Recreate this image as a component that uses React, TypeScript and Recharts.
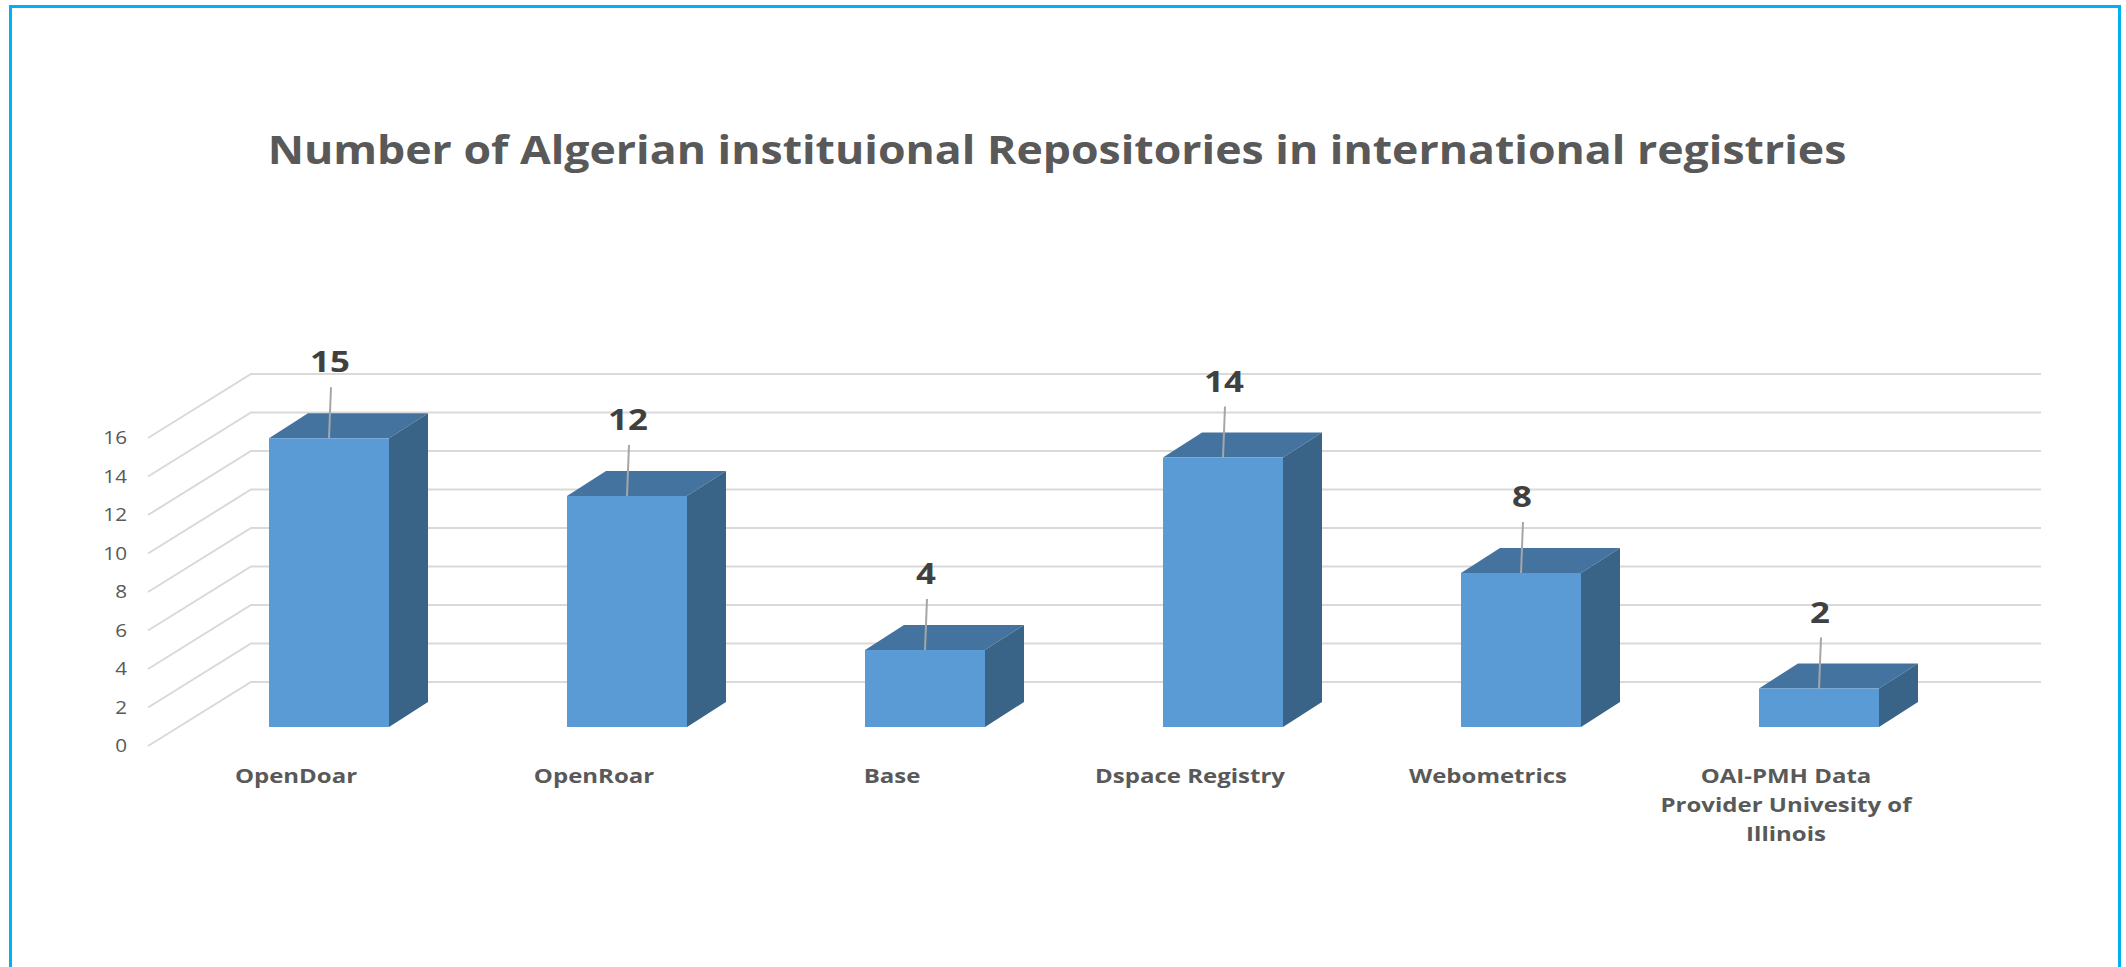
import React from 'react';
import { BarChart, Bar, XAxis, YAxis, CartesianGrid, LabelList } from 'recharts';

const categories = [
  'OpenDoar',
  'OpenRoar',
  'Base',
  'Dspace Registry',
  'Webometrics',
  'OAI-PMH Data\nProvider Univesity of\nIllinois',
];
const repositoryCounts = [15, 12, 4, 14, 8, 2];
const yTicks = [0, 2, 4, 6, 8, 10, 12, 14, 16];

const chartData = categories.map((name, i) => ({ name, count: repositoryCounts[i] }));

const FONT = '"Open Sans", "Noto Sans", sans-serif';
const TEXT_GREY = '#595959';
const GRID = '#d9d9d9';
// the source image is stretched sideways, so text gets widened a bit
const STRETCH = 1.2;

// depth of the fake 3D box and of the floor
const DEPTH_X = 39;
const DEPTH_Y = 25;

// floor diagonal + back wall line, like Excel's 3D column chart
function WallLine(props: any) {
  const { x1, x2, y1, index } = props;
  const d = `M${x1 - 32},${y1 + 19} L${x1 + 71},${y1 - 45} L${x2 + 73},${y1 - 45}`;
  return <path key={`wall-${index}`} d={d} fill="none" stroke={GRID} strokeWidth={2} />;
}

function Box3D(props: any) {
  const { x, y, width, height } = props;
  const r = x + width;
  const b = y + height;
  return (
    <g>
      <polygon
        points={`${x},${y} ${r},${y} ${r + DEPTH_X},${y - DEPTH_Y} ${x + DEPTH_X},${y - DEPTH_Y}`}
        fill="#44739f"
      />
      <polygon
        points={`${r},${y} ${r + DEPTH_X},${y - DEPTH_Y} ${r + DEPTH_X},${b - DEPTH_Y} ${r},${b}`}
        fill="#3a6487"
      />
      <rect x={x} y={y} width={width} height={height} fill="#5b9bd5" />
    </g>
  );
}

function CalloutLabel(props: any) {
  const { x, y, width, value } = props;
  const cx = x + width / 2;
  return (
    <g>
      <line x1={cx} y1={y} x2={cx + 2} y2={y - 51} stroke="#a6a6a6" strokeWidth={2} />
      <g transform={`translate(${cx + 1},${y - 66}) scale(${STRETCH},1)`}>
        <text x={0} y={0} textAnchor="middle" fontFamily={FONT} fontWeight={700} fontSize={29} fill="#404040">
          {value}
        </text>
      </g>
    </g>
  );
}

function ValueTick(props: any) {
  const { x, y, payload } = props;
  return (
    <g transform={`translate(${x - 53},${y + 25}) scale(1.15,1)`}>
      <text x={0} y={0} textAnchor="end" fontFamily={FONT} fontSize={18} fill={TEXT_GREY}>
        {payload.value}
      </text>
    </g>
  );
}

function CategoryTick(props: any) {
  const { x, y, payload } = props;
  const lines = String(payload.value).split('\n');
  return (
    <g transform={`translate(${x - 33},${y + 56}) scale(${STRETCH},1)`}>
      <text x={0} y={0} textAnchor="middle" fontFamily={FONT} fontWeight={700} fontSize={20} fill={TEXT_GREY}>
        {lines.map((line, i) => (
          <tspan key={i} x={0} dy={i === 0 ? 0 : 29}>
            {line}
          </tspan>
        ))}
      </text>
    </g>
  );
}

export default function App() {
  return (
    <div
      style={{
        position: 'absolute',
        left: 0,
        top: 0,
        width: 2126,
        height: 967,
        overflow: 'hidden',
        background: '#ffffff',
      }}
    >
      <div
        style={{
          position: 'absolute',
          left: 9,
          top: 5,
          width: 2106,
          height: 1000,
          borderTop: '3px solid #00b0f0',
          borderLeft: '3px solid #00b0f0',
          borderRight: '3px solid #00b0f0',
        }}
      />
      <div
        style={{
          position: 'absolute',
          left: 0,
          top: 129,
          width: 2114,
          textAlign: 'center',
          fontFamily: FONT,
          fontWeight: 700,
          fontSize: 40,
          lineHeight: '40px',
          color: TEXT_GREY,
          whiteSpace: 'nowrap',
          transform: 'scaleX(1.115)',
          transformOrigin: '1057px 0',
        }}
      >
        Number of Algerian instituional Repositories in international registries
      </div>
      <div style={{ position: 'absolute', left: 0, top: 0 }}>
        <BarChart
          width={2126}
          height={967}
          data={chartData}
          margin={{ top: 419, right: 158, left: 120, bottom: 180 }}
        >
          <CartesianGrid vertical={false} horizontal={WallLine} />
          <XAxis
            dataKey="name"
            axisLine={false}
            tickLine={false}
            tickSize={0}
            tickMargin={0}
            height={60}
            interval={0}
            tick={<CategoryTick />}
          />
          <YAxis
            domain={[0, 16]}
            ticks={yTicks}
            axisLine={false}
            tickLine={false}
            tickSize={0}
            tickMargin={0}
            width={60}
            tick={<ValueTick />}
          />
          <Bar dataKey="count" barSize={120} shape={<Box3D />} isAnimationActive={false}>
            <LabelList dataKey="count" content={<CalloutLabel />} />
          </Bar>
        </BarChart>
      </div>
    </div>
  );
}
